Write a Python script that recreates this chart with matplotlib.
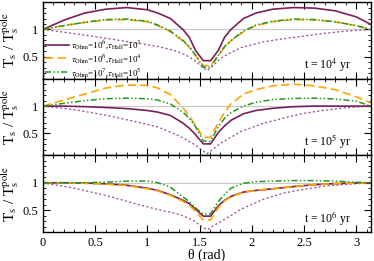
import matplotlib
matplotlib.use('Agg')
import matplotlib.pyplot as plt
from matplotlib.ticker import MultipleLocator

plt.rcParams['font.family'] = ['Liberation Serif', 'DejaVu Serif']
plt.rcParams['mathtext.fontset'] = 'stix'

# theta grids (rad)
TH = [0.0, 0.2, 0.4, 0.6, 0.8, 1.0, 1.1, 1.22, 1.34, 1.40, 1.46, 1.535,
      1.605, 1.68, 1.74, 1.80, 1.92, 2.04, 2.2, 2.4, 2.6, 2.8, 3.0, 3.1416]
TD = [0.0, 0.3, 0.6, 0.9, 1.1, 1.25, 1.35, 1.45, 1.52, 1.571, 1.62, 1.7,
      1.8, 1.9, 2.1, 2.3, 2.5, 2.7, 2.9, 3.1416]

# t = 1e4 yr
solid_1e4 = [1.0, 1.17, 1.30, 1.37, 1.40, 1.36, 1.30, 1.20, 1.00, 0.86, 0.62, 0.43,
             0.43, 0.62, 0.86, 1.00, 1.20, 1.30, 1.37, 1.40, 1.39, 1.34, 1.23, 1.09]
dash_1e4 = [1.0, 1.07, 1.13, 1.175, 1.18, 1.14, 1.07, 0.96, 0.79, 0.68, 0.53, 0.34,
            0.34, 0.53, 0.68, 0.79, 0.96, 1.07, 1.14, 1.18, 1.175, 1.14, 1.07, 1.0]
dd_1e4 = [1.0, 1.07, 1.13, 1.18, 1.19, 1.15, 1.08, 0.97, 0.80, 0.69, 0.53, 0.31,
          0.31, 0.53, 0.69, 0.80, 0.97, 1.08, 1.15, 1.19, 1.18, 1.14, 1.07, 1.0]
dot_1e4 = [1.0, 0.925, 0.84, 0.75, 0.69, 0.62, 0.55, 0.44, 0.32, 0.25, 0.32, 0.47,
           0.58, 0.67, 0.77, 0.83, 0.88, 0.93, 0.97, 1.0]

# t = 1e5 yr
solid_1e5 = [1.0, 1.0, 0.99, 0.975, 0.955, 0.92, 0.89, 0.83, 0.69, 0.60, 0.48, 0.31,
             0.31, 0.52, 0.64, 0.74, 0.86, 0.92, 0.96, 0.99, 1.0, 1.0, 1.0, 1.0]
dash_1e5 = [1.0, 1.11, 1.22, 1.33, 1.385, 1.38, 1.33, 1.21, 0.97, 0.82, 0.65, 0.43,
            0.43, 0.70, 0.89, 1.04, 1.22, 1.30, 1.37, 1.40, 1.37, 1.30, 1.17, 1.06]
dd_1e5 = [1.0, 1.05, 1.10, 1.135, 1.145, 1.135, 1.11, 1.04, 0.89, 0.78, 0.63, 0.36,
          0.36, 0.63, 0.78, 0.88, 1.00, 1.07, 1.12, 1.14, 1.145, 1.13, 1.09, 1.0]
dot_1e5 = [1.0, 0.935, 0.835, 0.71, 0.62, 0.50, 0.41, 0.30, 0.20, 0.13, 0.20, 0.32,
           0.43, 0.54, 0.68, 0.78, 0.87, 0.925, 0.97, 1.0]

# t = 1e6 yr
solid_1e6 = [1.0, 1.0, 0.995, 0.98, 0.955, 0.90, 0.86, 0.78, 0.68, 0.62, 0.52, 0.39,
             0.39, 0.58, 0.68, 0.75, 0.83, 0.86, 0.89, 0.93, 0.965, 0.985, 0.995, 1.0]
dash_1e6 = [1.0, 1.0, 0.99, 0.975, 0.95, 0.89, 0.85, 0.77, 0.66, 0.59, 0.48, 0.32,
            0.32, 0.55, 0.67, 0.74, 0.83, 0.86, 0.89, 0.93, 0.965, 0.985, 0.995, 1.0]
dd_1e6 = [1.0, 1.0, 1.0, 1.01, 1.03, 1.03, 1.0, 0.92, 0.74, 0.66, 0.54, 0.43,
          0.43, 0.66, 0.79, 0.90, 0.99, 1.02, 1.03, 1.04, 1.04, 1.03, 1.01, 1.0]
dot_1e6 = [1.0, 0.90, 0.77, 0.61, 0.51, 0.45, 0.39, 0.30, 0.20, 0.14, 0.20, 0.29,
           0.40, 0.52, 0.69, 0.81, 0.88, 0.94, 0.97, 1.0]

panels = [
    ('t = 10$^4$ yr', solid_1e4, dash_1e4, dd_1e4, dot_1e4),
    ('t = 10$^5$ yr', solid_1e5, dash_1e5, dd_1e5, dot_1e5),
    ('t = 10$^6$ yr', solid_1e6, dash_1e6, dd_1e6, dot_1e6),
]

labels = [r'$\tau_{\rm Ohm}$=10$^6$,$\tau_{\rm Hall}$=10$^3$',
          r'$\tau_{\rm Ohm}$=10$^6$,$\tau_{\rm Hall}$=10$^4$',
          r'$\tau_{\rm Ohm}$=10$^7$,$\tau_{\rm Hall}$=10$^5$']

PURPLE = '#7a1f5c'
ORANGE = '#ffa500'
GREEN = '#1f9a1f'
LILAC = '#a2539a'

fig, axes = plt.subplots(3, 1, figsize=(3.74, 2.61), dpi=100, sharex=True)
fig.subplots_adjust(left=0.115, right=0.992, top=0.992, bottom=0.111, hspace=0)

for i, (ax, (tlab, s, d, dd, dt)) in enumerate(zip(axes, panels)):
    ax.axhline(1.0, color='#c8c8c8', lw=0.8, zorder=0)
    ax.plot(TD, dt, color=LILAC, lw=1.0, ls=(0, (0.8, 2.4)), dash_capstyle='round')
    ax.plot(TH, s, color=PURPLE, lw=1.2, label=labels[0])
    ax.plot(TH, d, color=ORANGE, lw=1.2, ls=(0, (5, 2.5)), label=labels[1])
    ax.plot(TH, dd, color=GREEN, lw=1.1, ls=(0, (4, 1.5, 1, 1.5, 1, 1.5)), label=labels[2])
    ax.set_xlim(0, 3.1416)
    ax.set_ylim(0.1, 1.5)
    ax.xaxis.set_major_locator(MultipleLocator(0.5))
    ax.xaxis.set_minor_locator(MultipleLocator(0.1))
    ax.set_yticks([0.5, 1.0])
    ax.set_yticklabels(['0.5', '1'])
    ax.yaxis.set_minor_locator(MultipleLocator(0.1))
    ax.tick_params(which='both', direction='in', top=True, right=True, labelsize=9)
    ax.tick_params(which='major', length=5, width=0.8)
    ax.tick_params(which='minor', length=2.5, width=0.6)
    for sp in ax.spines.values():
        sp.set_linewidth(1.0)
    ax.set_ylabel(r'T$_\mathrm{s}$ / T$_\mathrm{s}^\mathrm{pole}$', fontsize=11, labelpad=1)
    ax.text(0.94, 0.13, tlab, transform=ax.transAxes, ha='right', va='baseline', fontsize=8.5)

axes[0].legend(loc='lower left', bbox_to_anchor=(-0.01, -0.07), frameon=False,
               fontsize=6.5, handlelength=2.6, handletextpad=0.3, labelspacing=0.15,
               borderaxespad=0.2)
axes[2].set_xticks([0, 0.5, 1, 1.5, 2, 2.5, 3])
axes[2].set_xticklabels(['0', '0.5', '1', '1.5', '2', '2.5', '3'])
axes[2].set_xlabel('θ (rad)', fontsize=10, labelpad=0)

fig.savefig('out.png', dpi=100)
